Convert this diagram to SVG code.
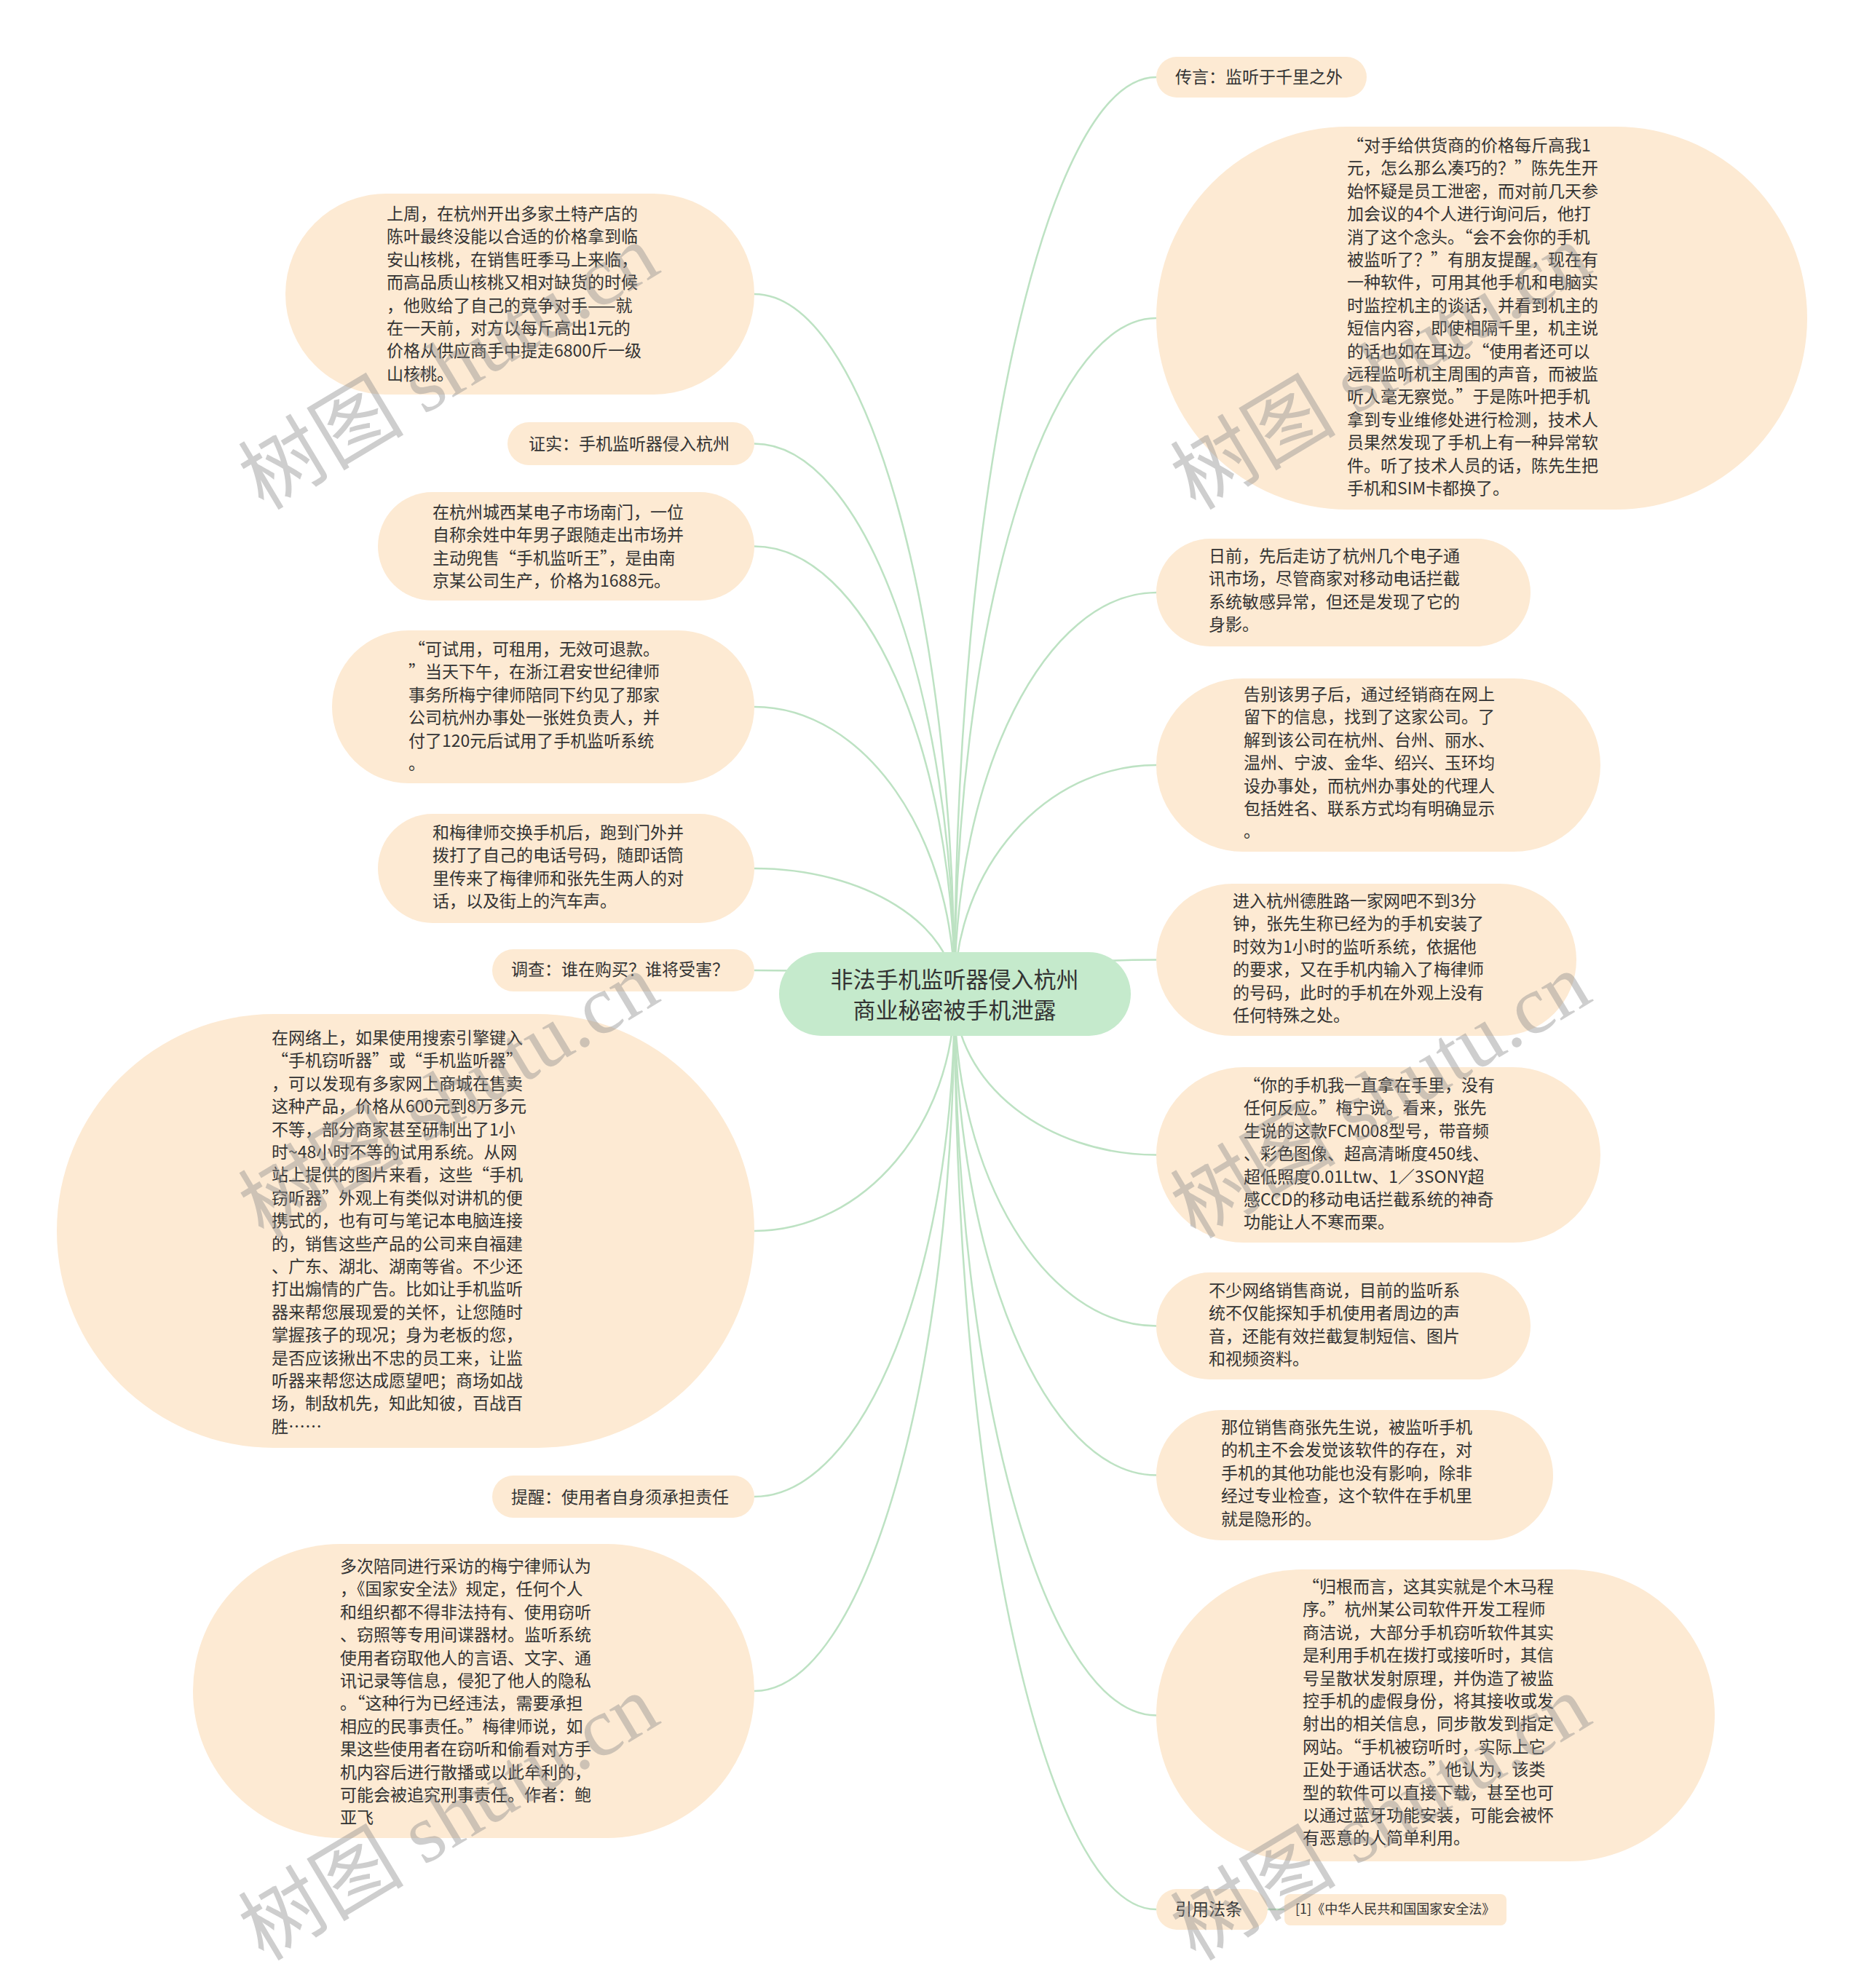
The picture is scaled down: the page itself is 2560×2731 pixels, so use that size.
<svg xmlns="http://www.w3.org/2000/svg" width="2560" height="2731" viewBox="0 0 2560 2731">
<defs>
<style>
.n{fill:#fdead3;}
.root{fill:#c5eacc;}
.t{font-family:"Noto Sans CJK SC","Microsoft YaHei",sans-serif;font-size:23px;fill:#333333;}
.rt{font-family:"Noto Sans CJK SC",sans-serif;font-size:31px;fill:#333333;text-anchor:middle;}
.st{font-family:"Noto Sans CJK SC",sans-serif;font-size:18px;fill:#333333;}
.c{fill:none;stroke:#bde2c3;stroke-width:2.5;}
.wm{font-family:"Liberation Serif","Noto Sans CJK SC",serif;font-size:114px;fill:#8c8c8c;opacity:0.42;}
</style>
</defs>
<rect width="2560" height="2731" fill="#ffffff"/>
<g id="connectors">
<path class="c" d="M1311 1365 C1311 836 1187 404 1036 404"/>
<path class="c" d="M1311 1365 C1311 949.5 1187 609.5 1036 609.5"/>
<path class="c" d="M1311 1365 C1311 1027 1187 750.5 1036 750.5"/>
<path class="c" d="M1311 1365 C1311 1148 1187 971 1036 971"/>
<path class="c" d="M1311 1365 C1311 1270 1187 1193 1036 1193"/>
<path class="c" d="M1311 1365 C1311 1347 1187 1333 1036 1333"/>
<path class="c" d="M1311 1365 C1311 1544 1187 1691 1036 1691"/>
<path class="c" d="M1311 1365 C1311 1745 1187 2056 1036 2056"/>
<path class="c" d="M1311 1365 C1311 1892 1187 2323 1036 2323"/>
<path class="c" d="M1311 1365 C1311 672.5 1436 106 1588 106"/>
<path class="c" d="M1311 1365 C1311 855 1436 437 1588 437"/>
<path class="c" d="M1311 1365 C1311 1062 1436 814 1588 814"/>
<path class="c" d="M1311 1365 C1311 1192 1436 1051 1588 1051"/>
<path class="c" d="M1311 1365 C1311 1339 1436 1318.5 1588 1318.5"/>
<path class="c" d="M1311 1365 C1311 1487 1436 1586.5 1588 1586.5"/>
<path class="c" d="M1311 1365 C1311 1616 1436 1821.5 1588 1821.5"/>
<path class="c" d="M1311 1365 C1311 1729 1436 2026.5 1588 2026.5"/>
<path class="c" d="M1311 1365 C1311 1910 1436 2356.5 1588 2356.5"/>
<path class="c" d="M1311 1365 C1311 2057 1436 2623 1588 2623"/>
<path class="c" d="M1741 2623 L1764 2623"/>
</g>
<g id="root">
<rect class="root" x="1070" y="1308" width="483" height="115" rx="57.5"/>
<text class="rt" x="1311" y="1357">非法手机监听器侵入杭州</text>
<text class="rt" x="1311" y="1399">商业秘密被手机泄露</text>
</g>
<g id="L1">
<rect class="n" x="392" y="266" width="644" height="276" rx="138"/>
<text class="t" x="531" y="302"><tspan x="531">上周，在杭州开出多家土特产店的</tspan><tspan x="531" dy="31.4">陈叶最终没能以合适的价格拿到临</tspan><tspan x="531" dy="31.4">安山核桃，在销售旺季马上来临，</tspan><tspan x="531" dy="31.4">而高品质山核桃又相对缺货的时候</tspan><tspan x="531" dy="31.4">，他败给了自己的竞争对手——就</tspan><tspan x="531" dy="31.4">在一天前，对方以每斤高出1元的</tspan><tspan x="531" dy="31.4">价格从供应商手中提走6800斤一级</tspan><tspan x="531" dy="31.4">山核桃。</tspan></text>
</g>
<g id="L2">
<rect class="n" x="697" y="580" width="339" height="59" rx="29.5"/>
<text class="t" x="726" y="618">证实：手机监听器侵入杭州</text>
</g>
<g id="L3">
<rect class="n" x="519" y="676" width="517" height="149" rx="74.5"/>
<text class="t" x="594" y="712"><tspan x="594">在杭州城西某电子市场南门，一位</tspan><tspan x="594" dy="31.4">自称余姓中年男子跟随走出市场并</tspan><tspan x="594" dy="31.4">主动兜售“手机监听王”，是由南</tspan><tspan x="594" dy="31.4">京某公司生产，价格为1688元。</tspan></text>
</g>
<g id="L4">
<rect class="n" x="456" y="866" width="580" height="210" rx="105"/>
<text class="t" x="561" y="900"><tspan x="561">“可试用，可租用，无效可退款。</tspan><tspan x="561" dy="31.4">”当天下午，在浙江君安世纪律师</tspan><tspan x="561" dy="31.4">事务所梅宁律师陪同下约见了那家</tspan><tspan x="561" dy="31.4">公司杭州办事处一张姓负责人，并</tspan><tspan x="561" dy="31.4">付了120元后试用了手机监听系统</tspan><tspan x="561" dy="31.4">。</tspan></text>
</g>
<g id="L5">
<rect class="n" x="519" y="1118" width="517" height="150" rx="75"/>
<text class="t" x="594" y="1152"><tspan x="594">和梅律师交换手机后，跑到门外并</tspan><tspan x="594" dy="31.4">拨打了自己的电话号码，随即话筒</tspan><tspan x="594" dy="31.4">里传来了梅律师和张先生两人的对</tspan><tspan x="594" dy="31.4">话，以及街上的汽车声。</tspan></text>
</g>
<g id="L6">
<rect class="n" x="676" y="1304" width="360" height="58" rx="29"/>
<text class="t" x="702" y="1340">调查：谁在购买？谁将受害？</text>
</g>
<g id="L7">
<rect class="n" x="78" y="1393" width="958" height="596" rx="298"/>
<text class="t" x="373" y="1434"><tspan x="373">在网络上，如果使用搜索引擎键入</tspan><tspan x="373" dy="31.4">“手机窃听器”或“手机监听器”</tspan><tspan x="373" dy="31.4">，可以发现有多家网上商城在售卖</tspan><tspan x="373" dy="31.4">这种产品，价格从600元到8万多元</tspan><tspan x="373" dy="31.4">不等，部分商家甚至研制出了1小</tspan><tspan x="373" dy="31.4">时~48小时不等的试用系统。从网</tspan><tspan x="373" dy="31.4">站上提供的图片来看，这些“手机</tspan><tspan x="373" dy="31.4">窃听器”外观上有类似对讲机的便</tspan><tspan x="373" dy="31.4">携式的，也有可与笔记本电脑连接</tspan><tspan x="373" dy="31.4">的，销售这些产品的公司来自福建</tspan><tspan x="373" dy="31.4">、广东、湖北、湖南等省。不少还</tspan><tspan x="373" dy="31.4">打出煽情的广告。比如让手机监听</tspan><tspan x="373" dy="31.4">器来帮您展现爱的关怀，让您随时</tspan><tspan x="373" dy="31.4">掌握孩子的现况；身为老板的您，</tspan><tspan x="373" dy="31.4">是否应该揪出不忠的员工来，让监</tspan><tspan x="373" dy="31.4">听器来帮您达成愿望吧；商场如战</tspan><tspan x="373" dy="31.4">场，制敌机先，知此知彼，百战百</tspan><tspan x="373" dy="31.4">胜……</tspan></text>
</g>
<g id="L8">
<rect class="n" x="676" y="2027" width="360" height="58" rx="29"/>
<text class="t" x="702" y="2065">提醒：使用者自身须承担责任</text>
</g>
<g id="L9">
<rect class="n" x="265" y="2121" width="771" height="404" rx="202"/>
<text class="t" x="467" y="2160"><tspan x="467">多次陪同进行采访的梅宁律师认为</tspan><tspan x="467" dy="31.4">，《国家安全法》规定，任何个人</tspan><tspan x="467" dy="31.4">和组织都不得非法持有、使用窃听</tspan><tspan x="467" dy="31.4">、窃照等专用间谍器材。监听系统</tspan><tspan x="467" dy="31.4">使用者窃取他人的言语、文字、通</tspan><tspan x="467" dy="31.4">讯记录等信息，侵犯了他人的隐私</tspan><tspan x="467" dy="31.4">。“这种行为已经违法，需要承担</tspan><tspan x="467" dy="31.4">相应的民事责任。”梅律师说，如</tspan><tspan x="467" dy="31.4">果这些使用者在窃听和偷看对方手</tspan><tspan x="467" dy="31.4">机内容后进行散播或以此牟利的，</tspan><tspan x="467" dy="31.4">可能会被追究刑事责任。作者：鲍</tspan><tspan x="467" dy="31.4">亚飞</tspan></text>
</g>
<g id="R1">
<rect class="n" x="1588" y="78" width="289" height="56" rx="28"/>
<text class="t" x="1614" y="114">传言：监听于千里之外</text>
</g>
<g id="R2">
<rect class="n" x="1588" y="174" width="894" height="526" rx="263"/>
<text class="t" x="1850" y="208"><tspan x="1850">“对手给供货商的价格每斤高我1</tspan><tspan x="1850" dy="31.4">元，怎么那么凑巧的？”陈先生开</tspan><tspan x="1850" dy="31.4">始怀疑是员工泄密，而对前几天参</tspan><tspan x="1850" dy="31.4">加会议的4个人进行询问后，他打</tspan><tspan x="1850" dy="31.4">消了这个念头。“会不会你的手机</tspan><tspan x="1850" dy="31.4">被监听了？”有朋友提醒，现在有</tspan><tspan x="1850" dy="31.4">一种软件，可用其他手机和电脑实</tspan><tspan x="1850" dy="31.4">时监控机主的谈话，并看到机主的</tspan><tspan x="1850" dy="31.4">短信内容，即使相隔千里，机主说</tspan><tspan x="1850" dy="31.4">的话也如在耳边。“使用者还可以</tspan><tspan x="1850" dy="31.4">远程监听机主周围的声音，而被监</tspan><tspan x="1850" dy="31.4">听人毫无察觉。”于是陈叶把手机</tspan><tspan x="1850" dy="31.4">拿到专业维修处进行检测，技术人</tspan><tspan x="1850" dy="31.4">员果然发现了手机上有一种异常软</tspan><tspan x="1850" dy="31.4">件。听了技术人员的话，陈先生把</tspan><tspan x="1850" dy="31.4">手机和SIM卡都换了。</tspan></text>
</g>
<g id="R3">
<rect class="n" x="1588" y="740" width="514" height="148" rx="74"/>
<text class="t" x="1660" y="772"><tspan x="1660">日前，先后走访了杭州几个电子通</tspan><tspan x="1660" dy="31.4">讯市场，尽管商家对移动电话拦截</tspan><tspan x="1660" dy="31.4">系统敏感异常，但还是发现了它的</tspan><tspan x="1660" dy="31.4">身影。</tspan></text>
</g>
<g id="R4">
<rect class="n" x="1588" y="932" width="610" height="238" rx="119"/>
<text class="t" x="1708" y="962"><tspan x="1708">告别该男子后，通过经销商在网上</tspan><tspan x="1708" dy="31.4">留下的信息，找到了这家公司。了</tspan><tspan x="1708" dy="31.4">解到该公司在杭州、台州、丽水、</tspan><tspan x="1708" dy="31.4">温州、宁波、金华、绍兴、玉环均</tspan><tspan x="1708" dy="31.4">设办事处，而杭州办事处的代理人</tspan><tspan x="1708" dy="31.4">包括姓名、联系方式均有明确显示</tspan><tspan x="1708" dy="31.4">。</tspan></text>
</g>
<g id="R5">
<rect class="n" x="1588" y="1214" width="577" height="209" rx="104.5"/>
<text class="t" x="1693" y="1246"><tspan x="1693">进入杭州德胜路一家网吧不到3分</tspan><tspan x="1693" dy="31.4">钟，张先生称已经为的手机安装了</tspan><tspan x="1693" dy="31.4">时效为1小时的监听系统，依据他</tspan><tspan x="1693" dy="31.4">的要求，又在手机内输入了梅律师</tspan><tspan x="1693" dy="31.4">的号码，此时的手机在外观上没有</tspan><tspan x="1693" dy="31.4">任何特殊之处。</tspan></text>
</g>
<g id="R6">
<rect class="n" x="1588" y="1466" width="610" height="241" rx="120.5"/>
<text class="t" x="1708" y="1499"><tspan x="1708">“你的手机我一直拿在手里，没有</tspan><tspan x="1708" dy="31.4">任何反应。”梅宁说。看来，张先</tspan><tspan x="1708" dy="31.4">生说的这款FCM008型号，带音频</tspan><tspan x="1708" dy="31.4">、彩色图像、超高清晰度450线、</tspan><tspan x="1708" dy="31.4">超低照度0.01Ltw、1／3SONY超</tspan><tspan x="1708" dy="31.4">感CCD的移动电话拦截系统的神奇</tspan><tspan x="1708" dy="31.4">功能让人不寒而栗。</tspan></text>
</g>
<g id="R7">
<rect class="n" x="1588" y="1748" width="514" height="147" rx="73.5"/>
<text class="t" x="1660" y="1781"><tspan x="1660">不少网络销售商说，目前的监听系</tspan><tspan x="1660" dy="31.4">统不仅能探知手机使用者周边的声</tspan><tspan x="1660" dy="31.4">音，还能有效拦截复制短信、图片</tspan><tspan x="1660" dy="31.4">和视频资料。</tspan></text>
</g>
<g id="R8">
<rect class="n" x="1588" y="1937" width="545" height="179" rx="89.5"/>
<text class="t" x="1677" y="1969"><tspan x="1677">那位销售商张先生说，被监听手机</tspan><tspan x="1677" dy="31.4">的机主不会发觉该软件的存在，对</tspan><tspan x="1677" dy="31.4">手机的其他功能也没有影响，除非</tspan><tspan x="1677" dy="31.4">经过专业检查，这个软件在手机里</tspan><tspan x="1677" dy="31.4">就是隐形的。</tspan></text>
</g>
<g id="R9">
<rect class="n" x="1588" y="2156" width="767" height="401" rx="200.5"/>
<text class="t" x="1789" y="2188"><tspan x="1789">“归根而言，这其实就是个木马程</tspan><tspan x="1789" dy="31.4">序。”杭州某公司软件开发工程师</tspan><tspan x="1789" dy="31.4">商洁说，大部分手机窃听软件其实</tspan><tspan x="1789" dy="31.4">是利用手机在拨打或接听时，其信</tspan><tspan x="1789" dy="31.4">号呈散状发射原理，并伪造了被监</tspan><tspan x="1789" dy="31.4">控手机的虚假身份，将其接收或发</tspan><tspan x="1789" dy="31.4">射出的相关信息，同步散发到指定</tspan><tspan x="1789" dy="31.4">网站。“手机被窃听时，实际上它</tspan><tspan x="1789" dy="31.4">正处于通话状态。”他认为，该类</tspan><tspan x="1789" dy="31.4">型的软件可以直接下载，甚至也可</tspan><tspan x="1789" dy="31.4">以通过蓝牙功能安装，可能会被怀</tspan><tspan x="1789" dy="31.4">有恶意的人简单利用。</tspan></text>
</g>
<g id="R10">
<rect class="n" x="1588" y="2595" width="153" height="56" rx="28"/>
<text class="t" x="1614" y="2631">引用法条</text>
</g>
<g id="R10-1">
<rect class="n" x="1764" y="2602" width="305" height="43" rx="8"/>
<text class="st" x="1779" y="2629">[1]《中华人民共和国国家安全法》</text>
</g>
<g id="watermark">
<text class="wm" transform="translate(362 702) rotate(-31)">树图 shutu.cn</text>
<text class="wm" transform="translate(1642 702) rotate(-31)">树图 shutu.cn</text>
<text class="wm" transform="translate(362 1703) rotate(-31)">树图 shutu.cn</text>
<text class="wm" transform="translate(1642 1703) rotate(-31)">树图 shutu.cn</text>
<text class="wm" transform="translate(362 2695) rotate(-31)">树图 shutu.cn</text>
<text class="wm" transform="translate(1642 2695) rotate(-31)">树图 shutu.cn</text>
</g>
</svg>
